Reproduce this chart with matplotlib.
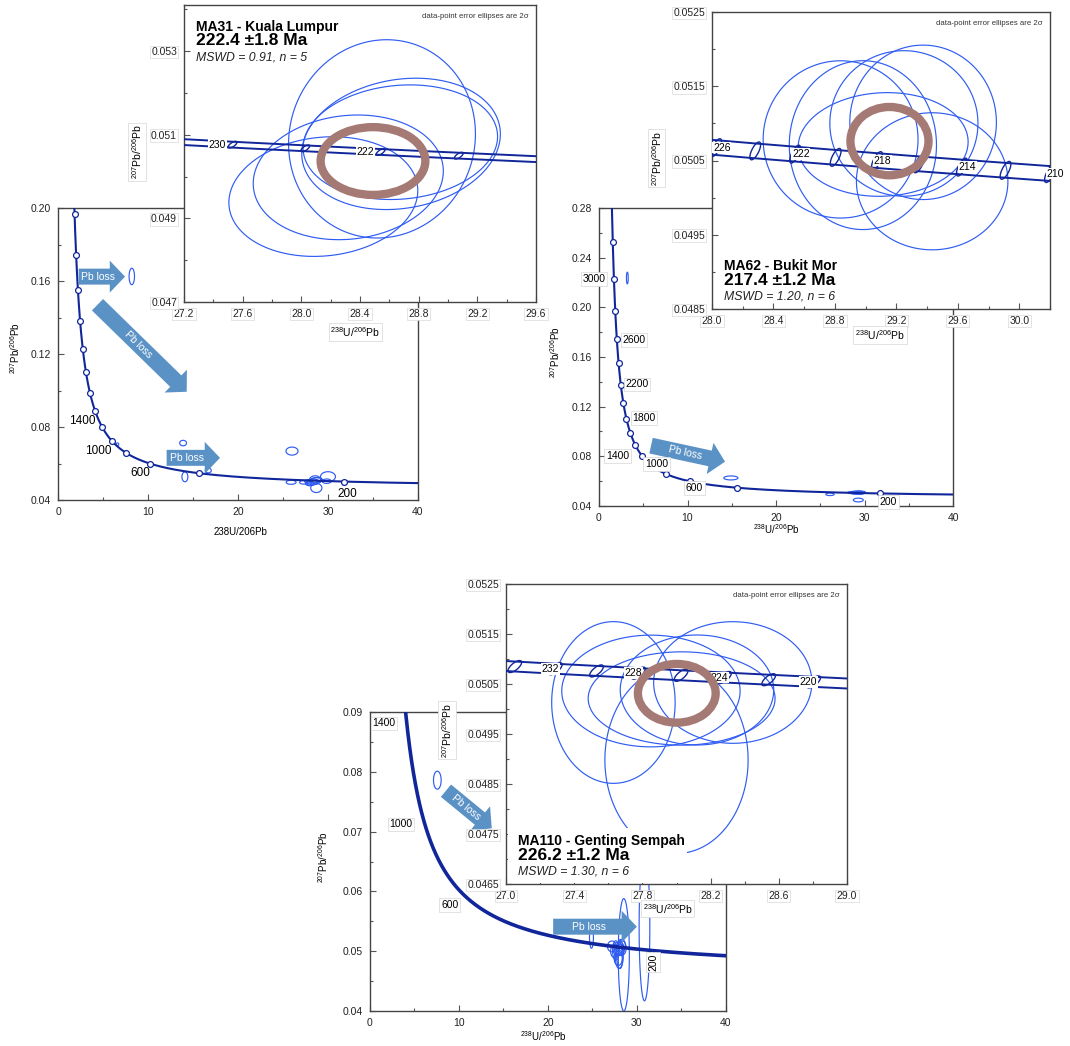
import numpy as np
import matplotlib
matplotlib.use("Agg")
import matplotlib.pyplot as plt
from matplotlib.patches import FancyArrowPatch, ArrowStyle, Polygon, Ellipse, Rectangle
from matplotlib.ticker import FixedLocator, FormatStrFormatter

plt.rcParams['font.family'] = ['Liberation Sans', 'DejaVu Sans']
plt.rcParams['mathtext.fontset'] = 'custom'
plt.rcParams['mathtext.rm'] = 'Liberation Sans'
plt.rcParams['mathtext.it'] = 'Liberation Sans:italic'
plt.rcParams['mathtext.bf'] = 'Liberation Sans:bold'

# ---------------------------------------------------------------------------
# Decay constants (1/Ma) and present-day 238U/235U
L238 = 1.55125e-4
L235 = 9.8485e-4
U_RATIO = 137.88

# ---------------------------------------------------------------------------
# MA31 - Kuala Lumpur
ma31_title = "MA31 - Kuala Lumpur"
ma31_age = 222.4
ma31_err = 1.8
ma31_mswd = 0.91
ma31_n = 5
ma31_x = [28.55, 28.68, 28.675, 28.32, 28.15]
ma31_y = [0.05090, 0.05078, 0.05082, 0.04998, 0.04952]
ma31_ex = [0.637, 0.677, 0.663, 0.648, 0.644]
ma31_ey = [0.00237, 0.00157, 0.00137, 0.00149, 0.00143]
ma31_rho = [0.05, 0.15, 0.10, 0.10, 0.10]
ma31_conc_y = 0.05037
ma31_conc_ex = 0.357
ma31_conc_ey = 0.00081
ma31_other_x = [8.2, 13.9, 14.1, 16.7, 26.0, 25.9, 30.0, 28.7, 29.85, 27.3, 28.0, 6.6, 27.8]
ma31_other_y = [0.1625, 0.0712, 0.0527, 0.0562, 0.0668, 0.0497, 0.0528, 0.0466, 0.0503,
                0.0497, 0.0490, 0.0705, 0.0502]
ma31_other_ex = [0.30, 0.38, 0.33, 0.33, 0.67, 0.55, 0.83, 0.62, 0.50, 0.45, 0.50, 0.15, 0.40]
ma31_other_ey = [0.0045, 0.0015, 0.0027, 0.0013, 0.0022, 0.0011, 0.0027, 0.0025, 0.0012,
                 0.0010, 0.0012, 0.0008, 0.0009]
ma31_main_ages = list(range(200, 3000, 200))
ma31_main_labels = [1400, 1000, 600, 200]
ma31_inset_ages = [218, 222, 226, 230]
ma31_inset_labels = [222, 230]

# MA62 - Bukit Mor
ma62_title = "MA62 - Bukit Mor"
ma62_age = 217.4
ma62_err = 1.2
ma62_mswd = 1.20
ma62_n = 6
ma62_x = [28.837, 28.982, 29.249, 29.374, 29.114, 29.433]
ma62_y = [0.050784, 0.050707, 0.050999, 0.051014, 0.050716, 0.050220]
ma62_ex = [0.504, 0.479, 0.482, 0.477, 0.553, 0.493]
ma62_ey = [0.001059, 0.001137, 0.000980, 0.001040, 0.000698, 0.000923]
ma62_rho = [0.0, 0.0, 0.0, 0.0, 0.05, 0.0]
ma62_conc_y = 0.050761
ma62_conc_ex = 0.254
ma62_conc_ey = 0.00046
ma62_other_x = [3.2, 14.9, 26.1, 29.3, 28.6, 29.6]
ma62_other_y = [0.2236, 0.0626, 0.0494, 0.0448, 0.0508, 0.0512]
ma62_other_ex = [0.10, 0.80, 0.47, 0.56, 0.50, 0.50]
ma62_other_ey = [0.0047, 0.0016, 0.0010, 0.0015, 0.0008, 0.0008]
ma62_main_ages = list(range(200, 3400, 200))
ma62_main_labels = [3000, 2600, 2200, 1800, 1400, 1000, 600, 200]
ma62_inset_ages = list(range(210, 230, 2))
ma62_inset_labels = [226, 222, 218, 214, 210]

# MA110 - Genting Sempah
ma110_title = "MA110 - Genting Sempah"
ma110_age = 226.2
ma110_err = 1.2
ma110_mswd = 1.30
ma110_n = 6
ma110_x = [27.63, 28.33, 27.85, 28.03, 28.00, 28.12]
ma110_y = [0.05013, 0.05053, 0.05036, 0.05021, 0.04898, 0.05038]
ma110_ex = [0.362, 0.464, 0.523, 0.548, 0.420, 0.450]
ma110_ey = [0.001617, 0.001216, 0.001117, 0.000933, 0.001870, 0.001100]
ma110_rho = [0.0, 0.0, 0.0, 0.0, 0.0, 0.0]
ma110_conc_y = 0.050314
ma110_conc_ex = 0.228
ma110_conc_ey = 0.000587
ma110_other_x = [7.6, 28.53, 30.85, 24.9, 28.1, 27.2, 27.9, 28.3, 27.5]
ma110_other_y = [0.0786, 0.0494, 0.0540, 0.0523, 0.0495, 0.0508, 0.0488, 0.0510, 0.0500]
ma110_other_ex = [0.43, 0.62, 0.60, 0.22, 0.37, 0.50, 0.45, 0.40, 0.45]
ma110_other_ey = [0.0015, 0.0094, 0.0123, 0.0018, 0.0024, 0.0009, 0.0012, 0.0010, 0.0011]
ma110_main_labels = [1400, 1000, 600, 200]
ma110_inset_ages = list(range(218, 238, 2))
ma110_inset_labels = [232, 228, 224, 220]

# ---------------------------------------------------------------------------
W, H = 1070, 1046
fig = plt.figure(figsize=(W / 100, H / 100), dpi=100)

CURVE = '#10269a'
ELL = '#2f5cf2'
CONC = '#a57a74'
ARROW = '#5b92c6'
SPINE = '#444444'


def px_axes(l, t, r, b, z):
    return fig.add_axes([l / W, 1 - b / H, (r - l) / W, (b - t) / H], zorder=z)


def tw(t):
    """Tera-Wasserburg coordinates for an age in Ma."""
    t = np.asarray(t, dtype=float)
    e8 = np.exp(L238 * t) - 1.0
    e5 = np.exp(L235 * t) - 1.0
    return 1.0 / e8, e5 / e8 / U_RATIO


def ellipse_poly(cx, cy, ex, ey, rho, color, lw, z):
    th = np.linspace(0, 2 * np.pi, 181)
    xs = cx + ex * np.cos(th)
    ys = cy + ey * (rho * np.cos(th) + np.sqrt(1 - rho ** 2) * np.sin(th))
    return Polygon(np.column_stack([xs, ys]), closed=True, fill=False,
                   ec=color, lw=lw, zorder=z)


def draw_ellipses(ax, xs, ys, exs, eys, rhos, color=ELL, lw=0.85, z=3):
    for cx, cy, ex, ey, r in zip(xs, ys, exs, eys, rhos):
        ax.add_patch(ellipse_poly(cx, cy, ex, ey, r, color, lw, z))


def grid(a, b, step):
    return np.round(np.arange(a, b + step / 2, step), 6)


def style(ax, xlim, ylim, xmaj, xmin, ymaj, ymin, xfmt, yfmt):
    ax.set_xlim(*xlim)
    ax.set_ylim(*ylim)
    ax.xaxis.set_major_locator(FixedLocator(grid(*xmaj)))
    ax.xaxis.set_minor_locator(FixedLocator(grid(*xmin)))
    ax.yaxis.set_major_locator(FixedLocator(grid(*ymaj)))
    ax.yaxis.set_minor_locator(FixedLocator(grid(*ymin)))
    ax.xaxis.set_major_formatter(FormatStrFormatter(xfmt))
    ax.yaxis.set_major_formatter(FormatStrFormatter(yfmt))
    ax.tick_params(which='both', direction='in', color='#555555', labelcolor='#222222',
                   labelsize=7.5, width=0.8, pad=5, top=False, right=False)
    ax.tick_params(which='major', length=4)
    ax.tick_params(which='minor', length=2.5)
    for s in ax.spines.values():
        s.set_color(SPINE)
        s.set_linewidth(1.0)


BOX = dict(fc='white', ec='#d6d6d6', lw=0.5, pad=1.2)


def arrow(ax, p0, p1, frac, z=4):
    st = ArrowStyle.Simple(head_length=11, head_width=23, tail_width=11.5)
    ax.add_patch(FancyArrowPatch(p0, p1, arrowstyle=st, mutation_scale=1, fc=ARROW,
                                 ec='none', shrinkA=0, shrinkB=0, zorder=z))
    d0 = ax.transData.transform(p0)
    d1 = ax.transData.transform(p1)
    ang = np.degrees(np.arctan2(d1[1] - d0[1], d1[0] - d0[0]))
    tx = p0[0] + frac * (p1[0] - p0[0])
    ty = p0[1] + frac * (p1[1] - p0[1])
    ax.text(tx, ty, 'Pb loss', color='white', fontsize=7.5, rotation=ang,
            rotation_mode='anchor', ha='center', va='center', zorder=z + 1)


def inset_titles(ax, title, age, err, mswd, n, y0):
    ax.text(0.035, y0, title, transform=ax.transAxes, fontsize=10, fontweight='bold',
            va='baseline', zorder=8)
    ax.text(0.035, y0 - 0.049, f"{age:.1f} ±{err:.1f} Ma", transform=ax.transAxes,
            fontsize=12.5, fontweight='bold', va='baseline', zorder=8)
    ax.text(0.035, y0 - 0.100, f"MSWD = {mswd:.2f}, n = {n}", transform=ax.transAxes,
            fontsize=8.8, style='italic', va='baseline', color='#222222', zorder=8)
    ax.text(0.978, 0.962, 'data-point error ellipses are 2σ', transform=ax.transAxes,
            fontsize=5.6, ha='right', va='center', color='#333333', zorder=8)


def inset_band(ax, ages, labels, band, age_span, mk_ex, mk_ey, lab_dx, ha):
    t = np.linspace(age_span[0], age_span[1], 400)
    x, y = tw(t)
    ax.plot(x, y + band, color=CURVE, lw=1.4, zorder=4)
    ax.plot(x, y - band, color=CURVE, lw=1.4, zorder=4)
    mx, my = tw(ages)
    for cx, cy in zip(mx, my):
        ax.add_patch(ellipse_poly(cx, cy, mk_ex, mk_ey, 0.7, CURVE, 1.0, 5))
    lx, ly = tw(labels)
    for a, cx, cy in zip(labels, lx, ly):
        ax.text(cx + lab_dx, cy, str(a), fontsize=7.5, ha=ha, va='center', zorder=6,
                bbox=dict(fc='white', ec='none', pad=0.6), clip_on=False)


def axis_labels(ax, xpos, ypos, size, boxed, sup_x=True):
    xl = r'$^{238}$U/$^{206}$Pb' if sup_x else '238U/206Pb'
    kw = dict(bbox=BOX) if boxed else {}
    ax.set_xlabel(xl, fontsize=size, **kw)
    ax.set_ylabel(r'$^{207}$Pb/$^{206}$Pb', fontsize=size, **kw)
    ax.xaxis.label.set_va('center')
    ax.yaxis.label.set_va('center')
    ax.xaxis.set_label_coords(*xpos)
    ax.yaxis.set_label_coords(*ypos)


# ===================== MA31 =====================
m1 = px_axes(58, 208, 418, 500, 1)
style(m1, (0, 40), (0.04, 0.20), (0, 40, 10), (0, 40, 5), (0.04, 0.20, 0.04),
      (0.04, 0.20, 0.02), '%d', '%.2f')
t = np.geomspace(150, 3100, 1500)
cx, cy = tw(t)
m1.plot(cx, cy, color=CURVE, lw=1.5, zorder=4)
ax_, ay_ = tw(ma31_main_ages)
m1.plot(ax_, ay_, 'o', ms=4.2, mfc='white', mec=CURVE, mew=0.9, zorder=5)
for a, pos in zip(ma31_main_labels, [(2.67, 0.0833), (4.44, 0.0667), (9.1, 0.0548), (32.1, 0.0432)]):
    m1.text(pos[0], pos[1], str(a), fontsize=8.5, ha='center', va='center', zorder=6)
draw_ellipses(m1, ma31_x, ma31_y, ma31_ex, ma31_ey, ma31_rho)
draw_ellipses(m1, ma31_other_x, ma31_other_y, ma31_other_ex, ma31_other_ey,
              [0] * len(ma31_other_x))
arrow(m1, (2.3, 0.1624), (7.45, 0.1624), 0.41)
arrow(m1, (4.39, 0.147), (14.3, 0.0993), 0.46)
arrow(m1, (12.07, 0.0631), (18.0, 0.0631), 0.38)
axis_labels(m1, (0.506, -0.11), (-0.119, 0.52), 7, False, sup_x=False)

i1 = px_axes(184, 5, 536, 302, 2)
style(i1, (27.2, 29.6), (0.047, 0.0541), (27.2, 29.6, 0.4), (27.2, 29.6, 0.2),
      (0.047, 0.053, 0.002), (0.047, 0.054, 0.001), '%.1f', '%.3f')
draw_ellipses(i1, ma31_x, ma31_y, ma31_ex, ma31_ey, ma31_rho, z=3)
inset_band(i1, ma31_inset_ages, ma31_inset_labels, 0.00007, (214, 236), 0.03, 0.00008,
           -0.045, 'right')
c1x = float(tw(ma31_age)[0])
i1.add_patch(Ellipse((c1x, ma31_conc_y), 2 * ma31_conc_ex, 2 * ma31_conc_ey, fill=False,
                     ec=CONC, lw=6, zorder=7))
inset_titles(i1, ma31_title, ma31_age, ma31_err, ma31_mswd, ma31_n, 0.9135)
axis_labels(i1, (0.486, -0.101), (-0.1335, 0.505), 7.5, True)

# ===================== MA62 =====================
m2 = px_axes(599, 208, 953, 506, 1)
style(m2, (0, 40), (0.04, 0.28), (0, 40, 10), (0, 40, 5), (0.04, 0.28, 0.04),
      (0.04, 0.28, 0.02), '%d', '%.2f')
t = np.geomspace(150, 3600, 1500)
cx, cy = tw(t)
m2.plot(cx, cy, color=CURVE, lw=1.5, zorder=4)
ax_, ay_ = tw(ma62_main_ages)
m2.plot(ax_, ay_, 'o', ms=4.2, mfc='white', mec=CURVE, mew=0.9, zorder=5)
for a, pos in zip(ma62_main_labels, [(-0.6, 0.2228), (3.95, 0.1737), (4.3, 0.138),
                                     (5.1, 0.111), (2.1, 0.0803), (6.5, 0.0738),
                                     (10.8, 0.0545), (32.7, 0.0432)]):
    m2.text(pos[0], pos[1], str(a), fontsize=7.5, ha='center', va='center', zorder=6,
            bbox=BOX, clip_on=False)
draw_ellipses(m2, ma62_x, ma62_y, ma62_ex, ma62_ey, ma62_rho)
draw_ellipses(m2, ma62_other_x, ma62_other_y, ma62_other_ex, ma62_other_ey,
              [0] * len(ma62_other_x))
arrow(m2, (5.88, 0.0886), (14.24, 0.0757), 0.46)
axis_labels(m2, (0.5, -0.077), (-0.124, 0.517), 7, False)

i2 = px_axes(712, 12, 1050, 309, 2)
style(i2, (28.0, 30.2), (0.0485, 0.0525), (28.0, 30.0, 0.4), (28.0, 30.2, 0.2),
      (0.0485, 0.0525, 0.001), (0.0485, 0.0525, 0.0005), '%.1f', '%.4f')
draw_ellipses(i2, ma62_x, ma62_y, ma62_ex, ma62_ey, ma62_rho, z=3)
inset_band(i2, ma62_inset_ages, ma62_inset_labels, 0.0001, (206, 232), 0.035, 0.00012,
           -0.02, 'left')
c2x = float(tw(ma62_age)[0])
i2.add_patch(Ellipse((c2x, ma62_conc_y), 2 * ma62_conc_ex, 2 * ma62_conc_ey, fill=False,
                     ec=CONC, lw=6, zorder=7))
inset_titles(i2, ma62_title, ma62_age, ma62_err, ma62_mswd, ma62_n, 0.131)
axis_labels(i2, (0.497, -0.0875), (-0.163, 0.508), 7.5, True)

# ===================== MA110 =====================
m3 = px_axes(369.6, 712, 726, 1011, 1)
style(m3, (0, 40), (0.04, 0.09), (0, 40, 10), (0, 40, 5), (0.04, 0.09, 0.01),
      (0.04, 0.09, 0.005), '%d', '%.2f')
t = np.geomspace(150, 1700, 1500)
cx, cy = tw(t)
draw_ellipses(m3, ma110_x, ma110_y, ma110_ex, ma110_ey, ma110_rho)
draw_ellipses(m3, ma110_other_x, ma110_other_y, ma110_other_ex, ma110_other_ey,
              [0] * len(ma110_other_x))
m3.plot(cx, cy, color=CURVE, lw=2.6, zorder=4)
for a, pos, rot in zip(ma110_main_labels, [(1.6, 0.0881), (3.5, 0.0712), (9.0, 0.0577),
                                           (31.8, 0.0482)], [0, 0, 0, 90]):
    m3.text(pos[0], pos[1], str(a), fontsize=7.5, ha='center', va='center', rotation=rot,
            zorder=6, bbox=BOX)
arrow(m3, (8.57, 0.07684), (13.71, 0.07055), 0.44)
arrow(m3, (20.6, 0.0541), (30.0, 0.0541), 0.43)
axis_labels(m3, (0.487, -0.084), (-0.131, 0.515), 7, False)

i3 = px_axes(506, 584, 847, 884, 2)
style(i3, (27.0, 29.0), (0.0465, 0.0525), (27.0, 29.0, 0.4), (27.0, 29.0, 0.2),
      (0.0465, 0.0525, 0.001), (0.0465, 0.0525, 0.0005), '%.1f', '%.4f')
draw_ellipses(i3, ma110_x, ma110_y, ma110_ex, ma110_ey, ma110_rho, z=3)
inset_band(i3, ma110_inset_ages, ma110_inset_labels, 0.0001, (214, 240), 0.04, 0.00012,
           -0.03, 'center')
c3x = float(tw(ma110_age)[0])
i3.add_patch(Ellipse((c3x, ma110_conc_y), 2 * ma110_conc_ex, 2 * ma110_conc_ey, fill=False,
                     ec=CONC, lw=6, zorder=7))
i3.add_patch(Rectangle((0.005, 0.004), 0.525, 0.183, transform=i3.transAxes, fc='white',
                       ec='none', zorder=7.5))
inset_titles(i3, ma110_title, ma110_age, ma110_err, ma110_mswd, ma110_n, 0.13)
axis_labels(i3, (0.475, -0.083), (-0.173, 0.513), 7.5, True)

# white boxes behind inset tick labels (they sit over the main diagrams)
fig.canvas.draw()
for ax in (i1, i2, i3):
    for lbl in ax.get_xticklabels() + ax.get_yticklabels():
        lbl.set_bbox(dict(fc='white', ec='#d9d9d9', lw=0.5, pad=1.0))

fig.savefig('out.png', dpi=100, facecolor='white')
